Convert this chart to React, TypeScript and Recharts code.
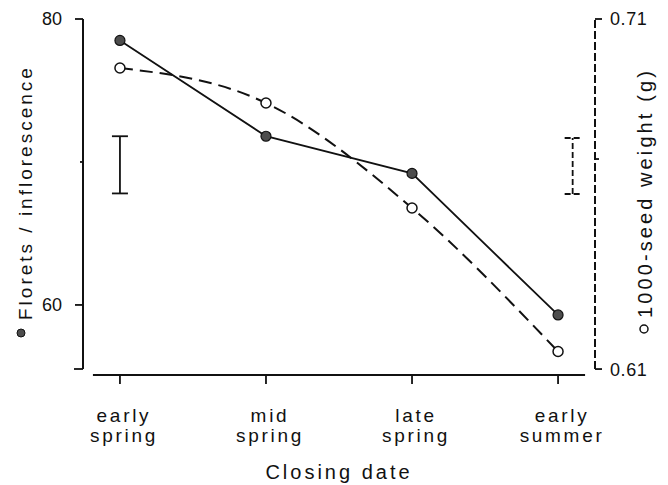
import React from 'react';
import { ComposedChart, Line, Scatter, ErrorBar, XAxis, YAxis, ReferenceLine } from 'recharts';

document.body.style.margin = '0';

const FONT = '"Liberation Sans", Arial, Helvetica, sans-serif';
const INK = '#111';

// closing dates along the x axis
const CATEGORIES = ['early spring', 'mid spring', 'late spring', 'early summer'];
// florets per inflorescence (left axis, filled circles)
const FLORETS = [78.5, 71.8, 69.2, 59.3];
// 1000-seed weight in g (right axis, open circles)
const SEED_WEIGHT = [0.696, 0.686, 0.656, 0.615];

const FLORET_TICKS = [60, 70, 80];
const SEED_TICKS = [0.61, 0.67, 0.71];

// LSD bars drawn beside the curves
const FLORET_LSD = [{ x: 0, y: 69.8, err: 2.0 }];
const SEED_LSD = [{ x: 3.1, y: 0.668, err: 0.008 }];

// axis extents
const X_DOMAIN = [-0.253, 3.253];
const X_LINE = [-0.185, 3.185];
const FLORET_DOMAIN = [55.1, 80];
const FLORET_AXIS_MIN = 55.52;
const SEED_DOMAIN = [0.6083, 0.71];

const data = CATEGORIES.map((name, i) => ({
  x: i,
  name,
  florets: FLORETS[i],
  seed: SEED_WEIGHT[i],
}));

const FloretTick = (props: any) => {
  const { x, y, payload } = props;
  const v = payload.value;
  const len = v === 70 ? 3 : v === FLORET_AXIS_MIN ? 9 : 8;
  const labelled = v === 60 || v === 80;
  return (
    <g>
      <line x1={x} x2={x - len} y1={y} y2={y} stroke={INK} strokeWidth={1.8} />
      {labelled && (
        <text x={x - 21} y={y} dy="0.36em" textAnchor="end" fontSize={18} fontFamily={FONT} fill={INK}>
          {v}
        </text>
      )}
    </g>
  );
};

const SeedTick = (props: any) => {
  const { x, y, payload } = props;
  const v = payload.value;
  const minor = v === 0.67;
  return (
    <g>
      <line x1={x} x2={x + (minor ? 4 : 7)} y1={y} y2={y} stroke={INK} strokeWidth={1.8} />
      {!minor && (
        <text x={x + 15} y={y} dy="0.36em" textAnchor="start" fontSize={18} letterSpacing={0.6} fontFamily={FONT} fill={INK}>
          {v.toFixed(2)}
        </text>
      )}
    </g>
  );
};

const CategoryTick = (props: any) => {
  const { x, y, payload } = props;
  const [first, second] = CATEGORIES[payload.value].split(' ');
  const cx = x + 4;
  return (
    <text textAnchor="middle" fontSize={19} letterSpacing={2.7} fontFamily={FONT} fill={INK}>
      <tspan x={cx} y={y + 38}>{first}</tspan>
      <tspan x={cx} y={y + 58}>{second}</tspan>
    </text>
  );
};

const XTitle = (props: any) => {
  const vb = props.viewBox || { x: 83, y: 375, width: 512 };
  return (
    <text x={vb.x + vb.width / 2} y={vb.y + 104} textAnchor="middle" fontSize={20} letterSpacing={3} fontFamily={FONT} fill={INK}>
      Closing date
    </text>
  );
};

const FloretTitle = () => (
  <g transform="translate(32,333) rotate(-90)">
    <circle cx={0} cy={-11} r={4} fill="#4d4d4d" stroke={INK} strokeWidth={1} />
    <text x={13} y={0} fontSize={19} letterSpacing={3} fontFamily={FONT} fill={INK}>
      Florets / inflorescence
    </text>
  </g>
);

const SeedTitle = () => (
  <g transform="translate(652,329) rotate(-90)">
    <circle cx={0} cy={-8} r={4} fill="#fff" stroke={INK} strokeWidth={1.5} />
    <text x={11} y={0} fontSize={20} letterSpacing={3.1} fontFamily={FONT} fill={INK}>
      1000-seed weight (g)
    </text>
  </g>
);

const hiddenPoint = () => <g />;

export default function App() {
  return (
    <div style={{ width: 668, height: 485, background: '#fff' }}>
      <ComposedChart width={668} height={485} data={data} margin={{ top: 19, right: 0, bottom: 0, left: 0 }}>
        <XAxis
          dataKey="x"
          type="number"
          domain={X_DOMAIN}
          allowDataOverflow
          ticks={[0, 1, 2, 3]}
          interval={0}
          height={110}
          axisLine={false}
          tickSize={9}
          tickMargin={0}
          tickLine={{ stroke: INK, strokeWidth: 1.8 }}
          tick={<CategoryTick />}
          label={<XTitle />}
        />
        <YAxis
          yAxisId="florets"
          orientation="left"
          type="number"
          domain={FLORET_DOMAIN}
          allowDataOverflow
          ticks={[FLORET_AXIS_MIN, ...FLORET_TICKS]}
          interval={0}
          width={83}
          axisLine={false}
          tickLine={false}
          tickSize={0}
          tickMargin={0}
          tick={<FloretTick />}
          label={<FloretTitle />}
        />
        <YAxis
          yAxisId="seed"
          orientation="right"
          type="number"
          domain={SEED_DOMAIN}
          allowDataOverflow
          ticks={SEED_TICKS}
          interval={0}
          width={73}
          axisLine={false}
          tickLine={false}
          tickSize={0}
          tickMargin={0}
          tick={<SeedTick />}
          label={<SeedTitle />}
        />

        {/* axis lines: left solid, right dashed, bottom detached */}
        <ReferenceLine
          yAxisId="florets"
          segment={[{ x: X_DOMAIN[0], y: FLORET_AXIS_MIN }, { x: X_DOMAIN[0], y: FLORET_DOMAIN[1] }]}
          stroke={INK}
          strokeWidth={2}
        />
        <ReferenceLine
          yAxisId="seed"
          segment={[{ x: X_DOMAIN[1], y: SEED_TICKS[0] }, { x: X_DOMAIN[1], y: SEED_DOMAIN[1] }]}
          stroke={INK}
          strokeWidth={2}
          strokeDasharray="8 3"
        />
        <ReferenceLine
          yAxisId="florets"
          segment={[{ x: X_LINE[0], y: FLORET_DOMAIN[0] }, { x: X_LINE[1], y: FLORET_DOMAIN[0] }]}
          stroke={INK}
          strokeWidth={2}
        />

        <Scatter yAxisId="florets" data={FLORET_LSD} dataKey="y" shape={hiddenPoint} isAnimationActive={false}>
          <ErrorBar dataKey="err" direction="y" width={8} stroke={INK} strokeWidth={1.8} isAnimationActive={false} />
        </Scatter>
        <Scatter yAxisId="seed" data={SEED_LSD} dataKey="y" shape={hiddenPoint} isAnimationActive={false}>
          <ErrorBar dataKey="err" direction="y" width={8} stroke={INK} strokeWidth={1.8} strokeDasharray="6 3" isAnimationActive={false} />
        </Scatter>

        <Line
          yAxisId="florets"
          dataKey="florets"
          type="linear"
          stroke={INK}
          strokeWidth={1.8}
          dot={{ r: 5, fill: '#4d4d4d', stroke: INK, strokeWidth: 1.2 }}
          isAnimationActive={false}
        />
        <Line
          yAxisId="seed"
          dataKey="seed"
          type="monotone"
          stroke={INK}
          strokeWidth={2}
          strokeDasharray="13 7"
          dot={{ r: 5, fill: '#fff', stroke: INK, strokeWidth: 1.5, strokeDasharray: 'none' }}
          isAnimationActive={false}
        />
      </ComposedChart>
    </div>
  );
}
